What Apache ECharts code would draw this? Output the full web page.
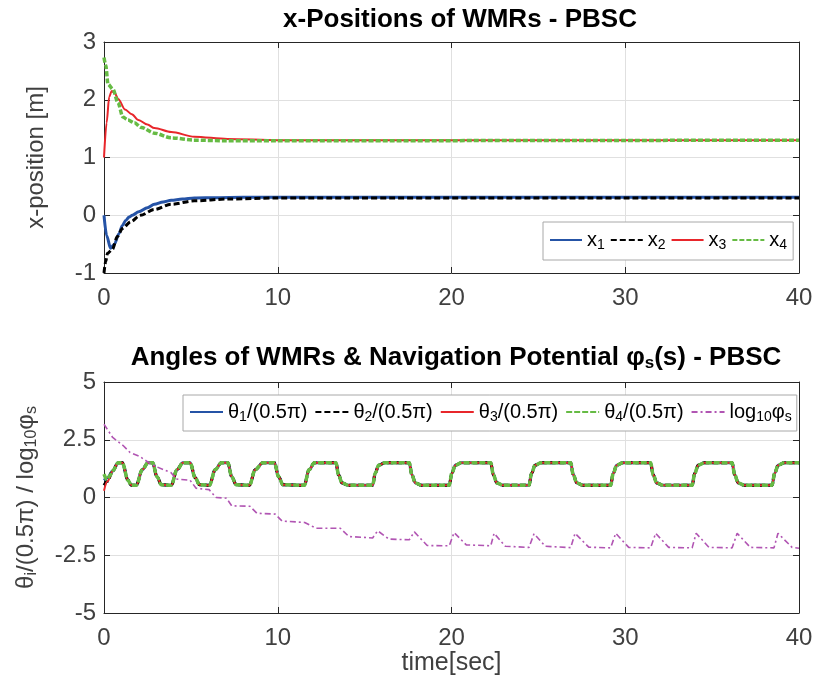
<!DOCTYPE html>
<html>
<head>
<meta charset="utf-8">
<script src="https://cdn.jsdelivr.net/npm/echarts@6/dist/echarts.min.js"></script>
<style>
  html, body { margin: 0; padding: 0; background: #fff; }
  #chart-panel { width: 816px; height: 691px; }
</style>
</head>
<body>
<div id="chart-panel"></div>
<script>
// ---- top plot: x-positions ----
var x1T = [0, 0.15, 0.38, 0.6, 0.86, 1.05, 1.25, 1.45, 1.63, 2.0, 2.5, 2.9, 3.4, 3.87, 4.5, 5.2, 6.5, 8, 10, 40];
var x1V = [0, -0.35, -0.57, -0.5, -0.32, -0.18, -0.09, -0.03, 0.0, 0.06, 0.13, 0.19, 0.23, 0.26, 0.28, 0.30, 0.305, 0.31, 0.31, 0.31];
var x2T = [0, 0.1, 0.2, 0.48, 0.77, 1.06, 1.54, 2.1, 2.9, 3.87, 5.2, 7.1, 10, 40];
var x2V = [-1, -0.8, -0.66, -0.59, -0.37, -0.23, -0.11, 0, 0.1, 0.19, 0.25, 0.28, 0.30, 0.30];
var x3T = [0, 0.15, 0.3, 0.44, 0.6, 0.83, 1.21, 1.6, 1.98, 2.5, 2.9, 3.87, 5.2, 7.1, 10, 40];
var x3V = [1, 1.6, 2.05, 2.15, 2.12, 2.01, 1.83, 1.75, 1.65, 1.57, 1.51, 1.44, 1.36, 1.32, 1.30, 1.30];
var x4T = [0, 0.1, 0.23, 0.52, 0.8, 1.09, 1.38, 1.75, 2.15, 2.91, 3.87, 5.2, 7, 10, 40];
var x4V = [2.73, 2.6, 2.27, 2.18, 1.95, 1.70, 1.65, 1.6, 1.52, 1.42, 1.34, 1.30, 1.29, 1.29, 1.30];

// ---- bottom plot: angles (start of each theta, then the shared wave) ----
var th1T = [0, 0.2, 0.5], th1V = [0.75, 0.85, 1.15];
var th2T = [0, 0.2, 0.5], th2V = [0.53, 0.7, 1.15];
var th3T = [0, 0.2, 0.5], th3V = [0.29, 0.7, 1.15];
var th4T = [0, 0.17, 0.35, 0.5], th4V = [1.01, 0.78, 0.95, 1.15];
var waveT = [0.81, 1.06, 1.38, 1.57, 1.86, 2.2, 2.53, 2.8, 3.05, 3.3, 3.87, 4.2, 4.54, 4.96, 5.25, 5.5, 6.07, 6.4, 6.75, 7.13,
  7.35, 7.61, 8.37, 8.7, 9.14, 9.81, 10.05, 10.3, 11.53, 11.8, 12.11,
  13.35, 13.5, 13.7, 14.05, 15.46, 15.61, 15.81, 16.16, 17.57, 17.72, 17.92, 18.27,
  19.87, 20.02, 20.22, 20.57, 22.26, 22.41, 22.61, 22.96, 24.46, 24.61, 24.81, 25.16,
  26.86, 27.01, 27.21, 27.56, 29.16, 29.31, 29.51, 29.86, 31.46, 31.61, 31.81, 32.16,
  33.85, 34.0, 34.2, 34.55, 36.15, 36.3, 36.5, 36.85, 38.45, 38.6, 38.8, 39.15, 40];
var waveV = [1.5, 1.5, 0.75, 0.53, 0.53, 1.2, 1.5, 1.5, 0.9, 0.55, 0.53, 1.2, 1.5, 1.5, 0.85, 0.55, 0.53, 1.2, 1.5, 1.5,
  0.9, 0.55, 0.53, 1.2, 1.5, 1.5, 0.9, 0.55, 0.53, 1.2, 1.5,
  1.5, 0.98, 0.63, 0.53, 0.53, 1.05, 1.4, 1.5, 1.5, 0.98, 0.63, 0.53,
  0.53, 1.05, 1.4, 1.5, 1.5, 0.98, 0.63, 0.53, 0.53, 1.05, 1.4, 1.5,
  1.5, 0.98, 0.63, 0.53, 0.53, 1.05, 1.4, 1.5, 1.5, 0.98, 0.63, 0.53,
  0.53, 1.05, 1.4, 1.5, 1.5, 0.98, 0.63, 0.53, 0.53, 1.05, 1.4, 1.5, 1.5];

// log10 of navigation potential
var phiT = [0, 0.5, 1.1, 1.5, 2.05, 2.6, 3.0, 3.7, 3.85, 4.15, 4.95, 5.3, 6.05, 6.45, 7.05, 7.35, 8.4, 8.8, 9.85, 10.25,
  11.55, 12.2, 13.6, 14.1, 15.46, 15.75, 16.4, 17.57, 17.86, 18.6, 19.87, 20.15, 20.85, 22.26, 22.45, 23.1,
  24.46, 24.75, 25.4, 26.86, 27.11, 27.9, 29.16, 29.45, 30.2, 31.46, 31.75, 32.5, 33.85, 34.08, 34.82,
  36.15, 36.44, 37.2, 38.56, 38.79, 39.6, 40];
var phiV = [3.17, 2.6, 2.25, 1.95, 1.78, 1.5, 1.34, 1.12, 1.08, 0.8, 0.75, 0.4, 0.34, 0.0, -0.03, -0.36, -0.38, -0.68, -0.72, -1.02,
  -1.08, -1.33, -1.33, -1.69, -1.75, -1.44, -1.8, -1.83, -1.49, -2.08, -2.09, -1.52, -2.05, -2.09, -1.55, -2.11,
  -2.16, -1.57, -2.11, -2.17, -1.55, -2.15, -2.18, -1.55, -2.16, -2.18, -1.55, -2.16, -2.18, -1.55, -2.16,
  -2.18, -1.55, -2.16, -2.18, -1.55, -2.16, -2.2];

var xTicks = [0, 40, 10];      // min, max, interval
var yTopTicks = [-1, 3, 1];
var yBotTicks = [-5, 5, 2.5];

function pairs(t, v) {
  var res = [];
  for (var i = 0; i < t.length; i++) res.push([t[i], v[i]]);
  return res;
}

var FONT = 'Liberation Sans, Arial, sans-serif';
var AX = '#262626', LBL = '#404040', GRIDC = '#e0e0e0';
var BLUE = '#2553a6', RED = '#e8262b', GREEN = '#66bb44', PURPLE = '#b155b3';

var sub = { fontSize: 14, fontFamily: FONT, color: '#000', verticalAlign: 'bottom', padding: [10, 0, 0, 0] };
var main = { fontSize: 20, fontFamily: FONT, color: '#000' };

function mainAxisX(gi, showLabel, name) {
  return {
    type: 'value', gridIndex: gi, position: 'bottom',
    min: xTicks[0], max: xTicks[1], interval: xTicks[2],
    axisLine: { show: true, onZero: false, lineStyle: { color: AX, width: 1 } },
    axisTick: { show: true, inside: true, length: 6, lineStyle: { color: AX } },
    axisLabel: { show: showLabel, color: LBL, fontSize: 24, fontFamily: FONT, margin: 13 },
    splitLine: { show: true, lineStyle: { color: GRIDC, width: 1 } },
    name: name || '', nameLocation: 'middle', nameGap: 38,
    nameTextStyle: { color: LBL, fontSize: 25, fontFamily: FONT }
  };
}
function sideAxisX(gi) {
  return {
    type: 'value', gridIndex: gi, position: 'top',
    min: xTicks[0], max: xTicks[1], interval: xTicks[2],
    axisLine: { show: true, onZero: false, lineStyle: { color: AX, width: 1 } },
    axisTick: { show: true, inside: true, length: 6, lineStyle: { color: AX } },
    axisLabel: { show: false }, splitLine: { show: false }
  };
}
function mainAxisY(gi, tk, name, rich, gap) {
  return {
    type: 'value', gridIndex: gi, position: 'left',
    min: tk[0], max: tk[1], interval: tk[2],
    axisLine: { show: true, onZero: false, lineStyle: { color: AX, width: 1 } },
    axisTick: { show: true, inside: true, length: 6, lineStyle: { color: AX } },
    axisLabel: { color: LBL, fontSize: 24, fontFamily: FONT, margin: 8 },
    splitLine: { show: true, lineStyle: { color: GRIDC, width: 1 } },
    name: name, nameLocation: 'middle', nameGap: gap,
    nameTextStyle: { color: LBL, fontSize: 24, fontFamily: FONT, rich: rich }
  };
}
function sideAxisY(gi, tk) {
  return {
    type: 'value', gridIndex: gi, position: 'right',
    min: tk[0], max: tk[1], interval: tk[2],
    axisLine: { show: true, onZero: false, lineStyle: { color: AX, width: 1 } },
    axisTick: { show: true, inside: true, length: 6, lineStyle: { color: AX } },
    axisLabel: { show: false }, splitLine: { show: false }
  };
}

var yRich = {
  m: { fontSize: 24, fontFamily: FONT, color: LBL },
  s: { fontSize: 16, fontFamily: FONT, color: LBL, verticalAlign: 'bottom', padding: [11, 0, 0, 0] }
};

var legendNames = {
  'x1': '{m|x}{s|1}', 'x2': '{m|x}{s|2}', 'x3': '{m|x}{s|3}', 'x4': '{m|x}{s|4}',
  't1': '{m|θ}{s|1}{m|/(0.5π)}', 't2': '{m|θ}{s|2}{m|/(0.5π)}', 't3': '{m|θ}{s|3}{m|/(0.5π)}',
  't4': '{m|θ}{s|4}{m|/(0.5π)}', 'p': '{m|log}{s|10}{m|φ}{s|s}'
};

function lineSeries(name, xi, yi, data, color, width, type, smooth) {
  return {
    name: name, type: 'line', xAxisIndex: xi, yAxisIndex: yi, data: data,
    showSymbol: false, symbol: 'none', smooth: smooth, smoothMonotone: 'x',
    lineStyle: { color: color, width: width, type: type },
    itemStyle: { color: color }, animation: false
  };
}

var myChart = echarts.init(document.querySelector('#chart-panel'), null, { renderer: 'canvas' });

var option = {
  backgroundColor: '#fff',
  animation: false,
  title: [
    { text: 'x-Positions of WMRs - PBSC', left: 455, textAlign: 'center', top: 2,
      textStyle: { fontSize: 26, fontWeight: 'bold', color: '#000', fontFamily: FONT } },
    { text: 'Angles of WMRs & Navigation Potential {p|φ}{s|s}{b|(s) - PBSC}', left: 451, textAlign: 'center', top: 338,
      textStyle: { fontSize: 26, fontWeight: 'bold', color: '#000', fontFamily: FONT,
        rich: {
          p: { fontSize: 26, fontWeight: 'bold', color: '#000', fontFamily: FONT },
          s: { fontSize: 17, fontWeight: 'bold', color: '#000', fontFamily: FONT, verticalAlign: 'bottom', padding: [12, 0, 0, 0] },
          b: { fontSize: 26, fontWeight: 'bold', color: '#000', fontFamily: FONT }
        } } }
  ],
  grid: [
    { left: 104, right: 17, top: 42, height: 231, containLabel: false },
    { left: 104, right: 17, top: 382, height: 231, containLabel: false }
  ],
  xAxis: [mainAxisX(0, true), sideAxisX(0), mainAxisX(1, true, 'time[sec]'), sideAxisX(1)],
  yAxis: [
    mainAxisY(0, yTopTicks, 'x-position [m]', yRich, 56),
    sideAxisY(0, yTopTicks),
    mainAxisY(1, yBotTicks, '{m|θ}{s|i}{m|/(0.5π) / log}{s|10}{m|φ}{s|s}', yRich, 64),
    sideAxisY(1, yBotTicks)
  ],
  legend: [
    { data: ['x1', 'x2', 'x3', 'x4'], left: 543, top: 222, orient: 'horizontal',
      backgroundColor: '#fff', borderColor: '#a8a8a8', borderWidth: 1, padding: [8, 6, 8, 6],
      itemWidth: 32, itemHeight: 14, itemGap: 5,
      itemStyle: { opacity: 0 },
      formatter: function (n) { return legendNames[n]; },
      textStyle: { rich: { m: main, s: sub } } },
    { data: ['t1', 't2', 't3', 't4', 'p'], left: 183, top: 395, orient: 'horizontal',
      backgroundColor: '#fff', borderColor: '#a8a8a8', borderWidth: 1, padding: [7, 5, 7, 6],
      itemWidth: 33, itemHeight: 14, itemGap: 7,
      itemStyle: { opacity: 0 },
      formatter: function (n) { return legendNames[n]; },
      textStyle: { rich: { m: main, s: sub } } }
  ],
  series: [
    lineSeries('x1', 0, 0, pairs(x1T, x1V), BLUE, 3, 'solid', 0.3),
    lineSeries('x2', 0, 0, pairs(x2T, x2V), '#000', 3, [6, 3], 0.3),
    lineSeries('x3', 0, 0, pairs(x3T, x3V), RED, 2, 'solid', 0.3),
    lineSeries('x4', 0, 0, pairs(x4T, x4V), GREEN, 3.5, [5, 2], 0.3),
    lineSeries('t1', 2, 2, pairs(th1T.concat(waveT), th1V.concat(waveV)), BLUE, 3, 'solid', 0.35),
    lineSeries('t2', 2, 2, pairs(th2T.concat(waveT), th2V.concat(waveV)), '#000', 3, [6, 3], 0.35),
    lineSeries('t3', 2, 2, pairs(th3T.concat(waveT), th3V.concat(waveV)), RED, 2, 'solid', 0.35),
    lineSeries('t4', 2, 2, pairs(th4T.concat(waveT), th4V.concat(waveV)), GREEN, 3.5, [6, 2], 0.35),
    lineSeries('p', 2, 2, pairs(phiT, phiV), PURPLE, 1.6, [6, 3, 2, 3], 0)
  ]
};

myChart.setOption(option);
</script>
</body>
</html>
